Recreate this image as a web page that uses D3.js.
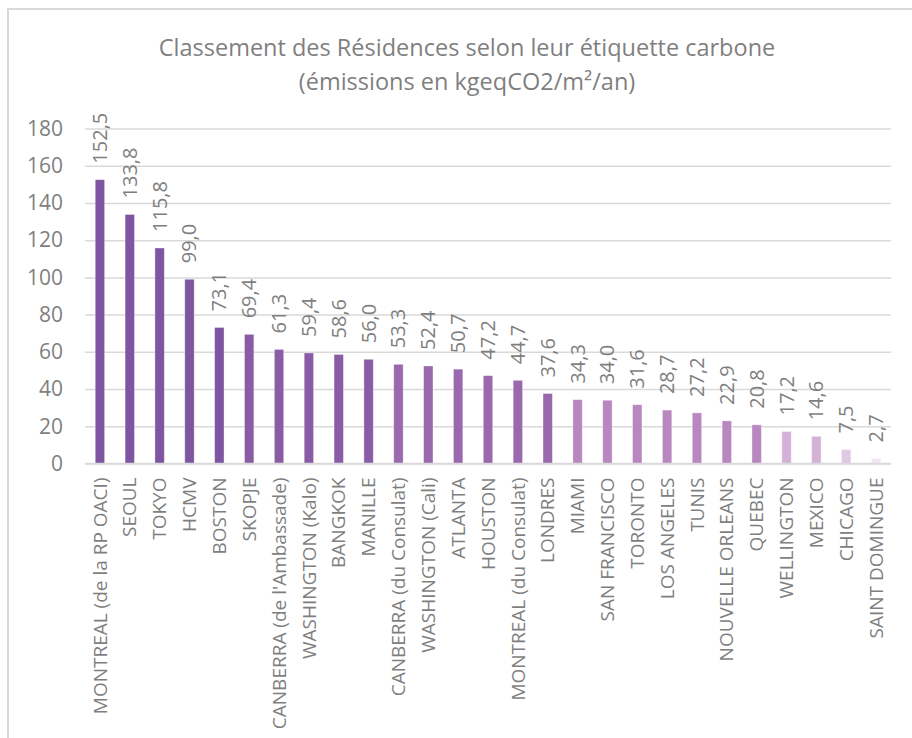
<!DOCTYPE html>
<html>
<head>
<meta charset="utf-8">
<script src="https://cdn.jsdelivr.net/npm/d3@7"></script>
<style>
  body { margin: 0; background: #fff; }
  svg { display: block; font-family: "Open Sans", "Noto Sans", sans-serif; }
</style>
</head>
<body>
<svg width="912" height="738"></svg>
<script>
var titleLines = ['Classement des Résidences selon leur étiquette carbone', '(émissions en kgeqCO2/m²/an)']

var residences = ['MONTREAL (de la RP OACI)', 'SEOUL', 'TOKYO', 'HCMV', 'BOSTON', 'SKOPJE',
  "CANBERRA (de l'Ambassade)", 'WASHINGTON (Kalo)', 'BANGKOK', 'MANILLE', 'CANBERRA (du Consulat)',
  'WASHINGTON (Cali)', 'ATLANTA', 'HOUSTON', 'MONTREAL (du Consulat)', 'LONDRES', 'MIAMI',
  'SAN FRANCISCO', 'TORONTO', 'LOS ANGELES', 'TUNIS', 'NOUVELLE ORLEANS', 'QUEBEC', 'WELLINGTON',
  'MEXICO', 'CHICAGO', 'SAINT DOMINGUE']

var emissions = [152.5, 133.8, 115.8, 99.0, 73.1, 69.4, 61.3, 59.4, 58.6, 56.0, 53.3, 52.4, 50.7,
  47.2, 44.7, 37.6, 34.3, 34.0, 31.6, 28.7, 27.2, 22.9, 20.8, 17.2, 14.6, 7.5, 2.7]

var yTicks = [0, 20, 40, 60, 80, 100, 120, 140, 160, 180]

// seuils des classes d'étiquette carbone
var classLimits = [5, 10, 20, 35, 55, 70]
var classColors = ['#efe6f1', '#decae3', '#d5b1d7', '#b987bf', '#9a68ad', '#8b5ca6', '#7f55a1']

var svg = d3.select('svg')
var textColor = '#7f7f7f'
var gridColor = '#d9d9d9'

// cadre du graphique
svg.append('rect')
  .attr('x', 8).attr('y', 9)
  .attr('width', 940).attr('height', 760)
  .style('fill', 'none')
  .style('stroke', gridColor)
  .style('stroke-width', 2)

var data = residences.map((name, i) => ({ name: name, value: emissions[i] }))

const x = d3.scaleBand()
  .domain(residences)
  .range([85, 891])
  .paddingInner(0.685)
  .paddingOuter(0.3425)

const y = d3.scaleLinear()
  .domain([0, 180])
  .range([463.5, 128.5])

const color = d3.scaleThreshold()
  .domain(classLimits)
  .range(classColors)

// titre
svg.append('g').selectAll('text')
  .data(titleLines)
  .enter().append('text')
  .attr('x', 467)
  .attr('y', (d, i) => 56 + i * 34)
  .attr('text-anchor', 'middle')
  .style('font-size', '23.5px')
  .style('fill', textColor)
  .text(d => d)

// axe y + grille
const yAxis = svg.append('g')
  .attr('transform', 'translate(85,0)')
  .call(d3.axisLeft(y).tickValues(yTicks).tickSize(-806).tickPadding(22).tickFormat(d3.format('d')))

yAxis.select('.domain').remove()
yAxis.selectAll('line')
  .style('stroke', gridColor)
  .style('stroke-width', 1.5)
yAxis.selectAll('text')
  .style('font-size', '21px')
  .style('font-family', '"Open Sans", "Noto Sans", sans-serif')
  .style('fill', textColor)

// barres
svg.append('g').selectAll('rect')
  .data(data)
  .enter().append('rect')
  .attr('x', d => x(d.name))
  .attr('y', d => y(d.value))
  .attr('width', x.bandwidth())
  .attr('height', d => y(0) - y(d.value))
  .style('fill', d => color(d.value))
  .style('stroke', '#ffffff')
  .style('stroke-opacity', 0.45)
  .style('stroke-width', 0.8)

// étiquettes de valeur
var fmt = d => d3.format('.1f')(d).replace('.', ',')
svg.append('g').selectAll('text')
  .data(data)
  .enter().append('text')
  .attr('transform', d => `translate(${x(d.name) + x.bandwidth() / 2},${y(d.value) - 16}) rotate(-90)`)
  .attr('dy', '0.35em')
  .attr('text-anchor', 'start')
  .style('font-size', '20px')
  .style('fill', textColor)
  .text(d => fmt(d.value))

// axe x (catégories)
const xAxis = svg.append('g')
  .attr('transform', `translate(0,${y(0)})`)
  .call(d3.axisBottom(x).tickSize(0).tickPadding(0))

xAxis.select('.domain')
  .style('stroke', gridColor)
  .style('stroke-width', 1.5)
  .attr('d', 'M85,0H891')
xAxis.selectAll('text')
  .attr('transform', 'translate(0,14) rotate(-90)')
  .attr('x', 0).attr('y', 0)
  .attr('dy', '0.35em')
  .attr('text-anchor', 'end')
  .style('font-size', '19px')
  .style('font-family', '"Open Sans", "Noto Sans", sans-serif')
  .style('fill', textColor)
</script>
</body>
</html>
